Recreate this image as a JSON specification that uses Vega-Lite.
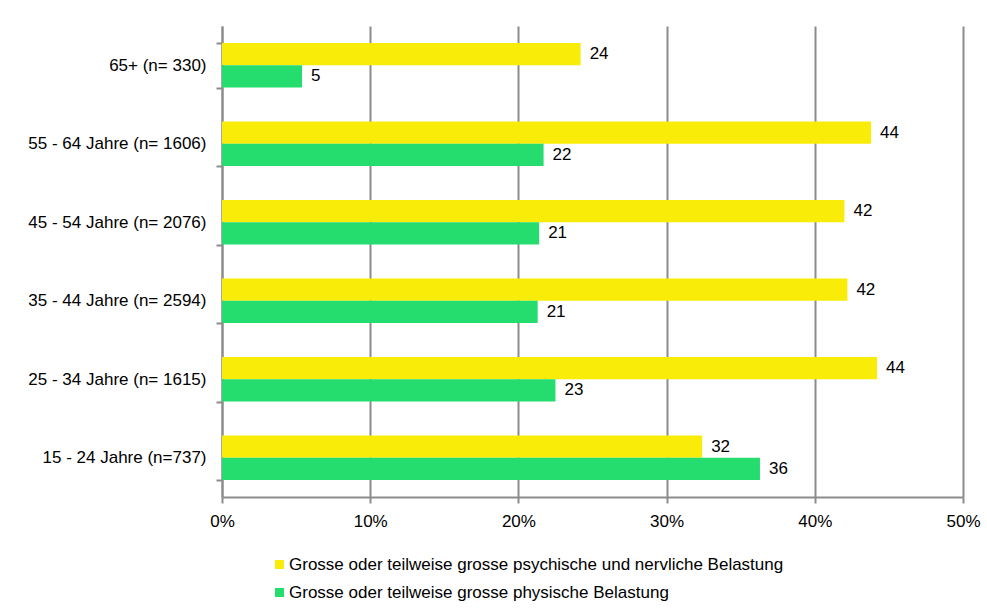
{
  "$schema": "https://vega.github.io/schema/vega-lite/v6.json",
  "width": 741,
  "height": 471,
  "autosize": {"type": "none"},
  "padding": {"left": 222, "top": 26, "right": 24, "bottom": 111},
  "background": "white",
  "config": {
    "font": "Liberation Sans",
    "view": {"stroke": null}
  },
  "data": {
    "values": [
      {"group": "65+ (n= 330)", "series": "Grosse oder teilweise grosse psychische und nervliche Belastung", "value": 24.2, "label": "24"},
      {"group": "65+ (n= 330)", "series": "Grosse oder teilweise grosse physische Belastung", "value": 5.4, "label": "5"},
      {"group": "55 - 64 Jahre (n= 1606)", "series": "Grosse oder teilweise grosse psychische und nervliche Belastung", "value": 43.8, "label": "44"},
      {"group": "55 - 64 Jahre (n= 1606)", "series": "Grosse oder teilweise grosse physische Belastung", "value": 21.7, "label": "22"},
      {"group": "45 - 54 Jahre (n= 2076)", "series": "Grosse oder teilweise grosse psychische und nervliche Belastung", "value": 42.0, "label": "42"},
      {"group": "45 - 54 Jahre (n= 2076)", "series": "Grosse oder teilweise grosse physische Belastung", "value": 21.4, "label": "21"},
      {"group": "35 - 44 Jahre (n= 2594)", "series": "Grosse oder teilweise grosse psychische und nervliche Belastung", "value": 42.2, "label": "42"},
      {"group": "35 - 44 Jahre (n= 2594)", "series": "Grosse oder teilweise grosse physische Belastung", "value": 21.3, "label": "21"},
      {"group": "25 - 34 Jahre (n= 1615)", "series": "Grosse oder teilweise grosse psychische und nervliche Belastung", "value": 44.2, "label": "44"},
      {"group": "25 - 34 Jahre (n= 1615)", "series": "Grosse oder teilweise grosse physische Belastung", "value": 22.5, "label": "23"},
      {"group": "15 - 24 Jahre (n=737)", "series": "Grosse oder teilweise grosse psychische und nervliche Belastung", "value": 32.4, "label": "32"},
      {"group": "15 - 24 Jahre (n=737)", "series": "Grosse oder teilweise grosse physische Belastung", "value": 36.3, "label": "36"}
    ]
  },
  "encoding": {
    "y": {
      "field": "group",
      "type": "nominal",
      "sort": null,
      "title": null,
      "scale": {"paddingInner": 0.43, "paddingOuter": 0.215},
      "axis": {
        "domainColor": "#8c8c8c",
        "domainWidth": 2,
        "tickColor": "#8c8c8c",
        "tickWidth": 2,
        "tickSize": 6,
        "tickBand": "extent",
        "labelFontSize": 17,
        "labelColor": "#000000",
        "labelPadding": 10,
        "labelLimit": 300,
        "grid": false
      }
    },
    "yOffset": {
      "field": "series",
      "type": "nominal",
      "sort": ["Grosse oder teilweise grosse psychische und nervliche Belastung", "Grosse oder teilweise grosse physische Belastung"],
      "scale": {"paddingInner": 0, "paddingOuter": 0}
    },
    "x": {
      "field": "value",
      "type": "quantitative",
      "title": null,
      "scale": {"domain": [0, 50], "nice": false, "zero": true},
      "axis": {
        "values": [0, 10, 20, 30, 40, 50],
        "labelExpr": "datum.value + '%'",
        "labelFontSize": 17,
        "labelColor": "#000000",
        "labelPadding": 10,
        "domainColor": "#8c8c8c",
        "domainWidth": 2,
        "tickColor": "#8c8c8c",
        "tickWidth": 2,
        "tickSize": 6,
        "grid": true,
        "gridColor": "#8c8c8c",
        "gridWidth": 2,
        "gridOpacity": 1,
        "labelFlush": false
      }
    }
  },
  "layer": [
    {
      "mark": {"type": "bar", "cornerRadius": 0},
      "encoding": {
        "color": {
          "field": "series",
          "type": "nominal",
          "sort": ["Grosse oder teilweise grosse psychische und nervliche Belastung", "Grosse oder teilweise grosse physische Belastung"],
          "scale": {"range": ["#F8EC08", "#25DD6E"]},
          "legend": {
            "title": null,
            "orient": "none",
            "legendX": 49,
            "legendY": 530,
            "direction": "vertical",
            "symbolType": "square",
            "symbolSize": 81,
            "symbolStrokeWidth": 0,
            "labelFontSize": 17,
            "labelColor": "#000000",
            "labelLimit": 800,
            "rowPadding": 10,
            "symbolOffset": 0,
            "labelOffset": 1
          }
        }
      }
    },
    {
      "mark": {"type": "text", "align": "left", "baseline": "middle", "dx": 9, "fontSize": 17, "color": "#000000"},
      "encoding": {
        "text": {"field": "label"}
      }
    }
  ]
}
